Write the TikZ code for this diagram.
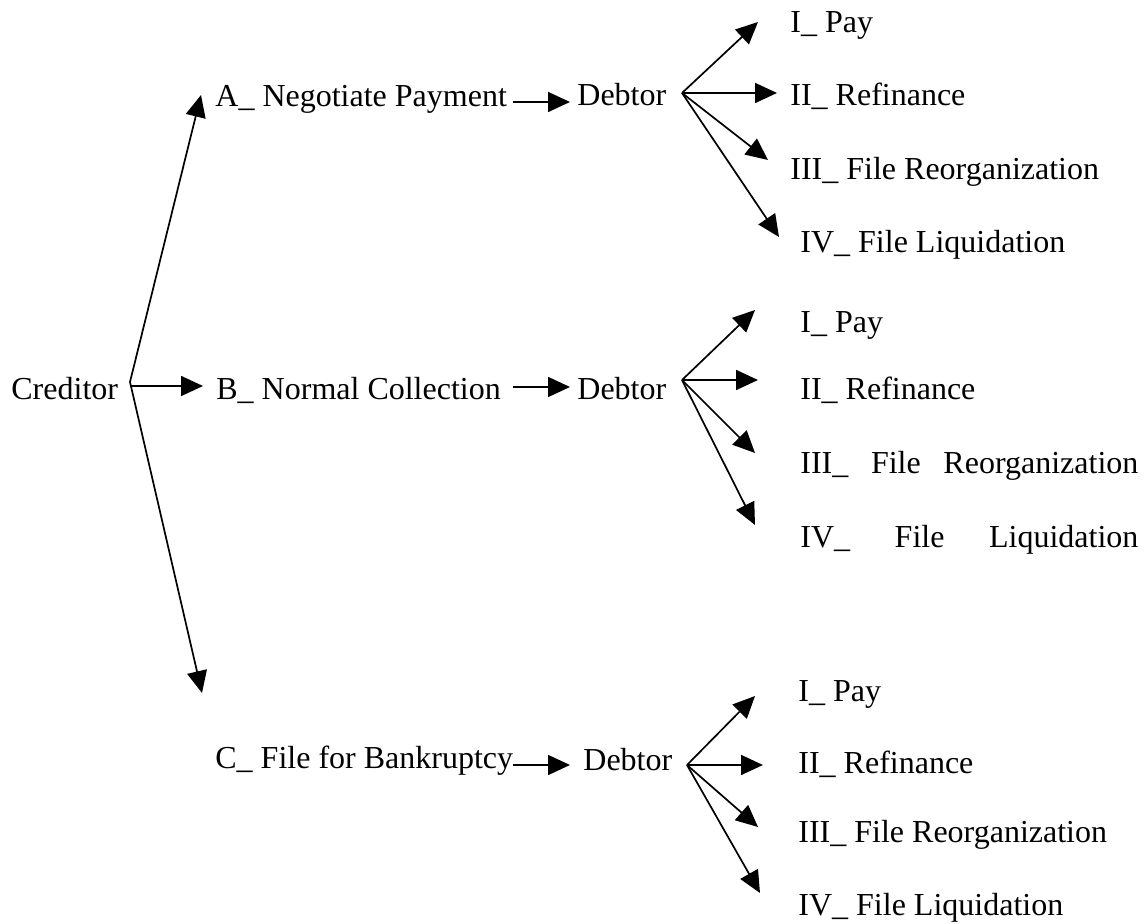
\documentclass[tikz,border=0pt]{standalone}
\usepackage{fontspec}
\setmainfont{Liberation Serif}
\usetikzlibrary{arrows.meta}
\begin{document}
\begin{tikzpicture}[x=0.5pt,y=-0.5pt,
  lbl/.style={anchor=base west, inner sep=0pt, font=\fontsize{16pt}{19pt}\selectfont},
  arr/.style={-{Triangle[length=11pt,width=10pt]}, line width=0.85pt}]
\useasboundingbox (0,0) rectangle (1146,924);

% left column
\node[lbl] (cred) at (11,400) {Creditor};
\node[lbl] (A) at (215,107) {A\_ Negotiate Payment};
\node[lbl] (B) at (216,400) {B\_ Normal Collection};
\node[lbl] (C) at (215,768) {C\_ File for Bankruptcy};

% debtors
\node[lbl] (D1) at (577,106) {Debtor};
\node[lbl] (D2) at (577,400) {Debtor};
\node[lbl] (D3) at (583,770) {Debtor};

% top outcomes
\node[lbl] (p1) at (790,33) {I\_ Pay};
\node[lbl] (r1) at (790,106) {II\_ Refinance};
\node[lbl] (o1) at (790,180) {III\_ File Reorganization};
\node[lbl] (l1) at (800,253) {IV\_ File Liquidation};

% middle outcomes
\node[lbl] (p2) at (800,333) {I\_ Pay};
\node[lbl] (r2) at (800,400) {II\_ Refinance};
\node[lbl] (o2) at (800,474) {\makebox[169pt][s]{III\_ File Reorganization}};
\node[lbl] (l2) at (800,548) {\makebox[169pt][s]{IV\_ File Liquidation}};

% bottom outcomes
\node[lbl] (p3) at (798,702) {I\_ Pay};
\node[lbl] (r3) at (798,773) {II\_ Refinance};
\node[lbl] (o3) at (798,842) {III\_ File Reorganization};
\node[lbl] (l3) at (798,915) {IV\_ File Liquidation};

% junctions and tips
\coordinate (cj) at (130,382);
\coordinate (cjb) at (130,386);
\coordinate (tA) at (201,95);
\coordinate (tB) at (203,386);
\coordinate (tC) at (202,693);

\coordinate (j1) at (682,93);
\coordinate (j2) at (682,380);
\coordinate (j3) at (687,765);

\coordinate (t1p) at (758,22);
\coordinate (t1r) at (777,93);
\coordinate (t1o) at (768,160);
\coordinate (t1l) at (779,237);

\coordinate (t2p) at (755,310);
\coordinate (t2r) at (758,380);
\coordinate (t2o) at (755,453);
\coordinate (t2l) at (755,525);

\coordinate (t3p) at (755,696);
\coordinate (t3r) at (763,765);
\coordinate (t3o) at (758,827);
\coordinate (t3l) at (760,893);

\coordinate (a1s) at (513,102); \coordinate (a1e) at (570,102);
\coordinate (a2s) at (513,387); \coordinate (a2e) at (570,387);
\coordinate (a3s) at (513,765); \coordinate (a3e) at (570,765);

% creditor fork
\draw[arr] (cj) -- (tA);
\draw[arr] (cjb) -- (tB);
\draw[arr] (cj) -- (tC);

% to debtors
\draw[arr] (a1s) -- (a1e);
\draw[arr] (a2s) -- (a2e);
\draw[arr] (a3s) -- (a3e);

% debtor forks
\foreach \j/\k in {j1/1, j2/2, j3/3} {
  \draw[arr] (\j) -- (t\k p);
  \draw[arr] (\j) -- (t\k r);
  \draw[arr] (\j) -- (t\k o);
  \draw[arr] (\j) -- (t\k l);
}
\end{tikzpicture}
\end{document}
